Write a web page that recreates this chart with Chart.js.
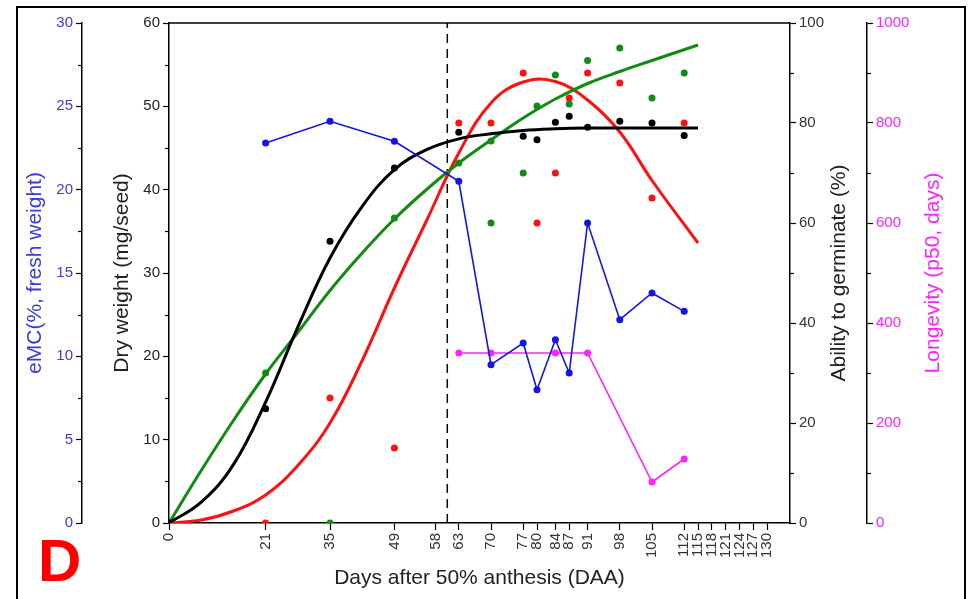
<!DOCTYPE html>
<html>
<head>
<meta charset="utf-8">
<title>Seed maturation time course</title>
<script src="https://cdn.jsdelivr.net/npm/chart.js@4.4.1/dist/chart.umd.min.js"></script>
<style>
  body { margin: 0; background: #fff; }
  #wrap { position: relative; width: 972px; height: 599px; }
  #panelLetter {
    position: absolute; left: 38px; top: 531px;
    font: bold 60px "Liberation Sans", Arial, sans-serif;
    line-height: 1; color: #ff0000;
  }
</style>
</head>
<body>
<div id="wrap">
  <canvas id="seedChart" width="972" height="599"></canvas>
  <div id="panelLetter">D</div>
</div>
<script>
// axis ticks
const dayTicks = [0, 21, 35, 49, 58, 63, 70, 77, 80, 84, 87, 91, 98, 105, 112, 115, 118, 121, 124, 127, 130];
const emcTicks = [0, 5, 10, 15, 20, 25, 30];
const dwTicks = [0, 10, 20, 30, 40, 50, 60];
const germTicks = [0, 20, 40, 60, 80, 100];
const longTicks = [0, 200, 400, 600, 800, 1000];

// dry weight (mg/seed), measured
const dwDays = [0, 21, 35, 49, 63, 77, 80, 84, 87, 91, 98, 105, 112];
const dwValues = [0, 13.7, 33.8, 42.6, 46.9, 46.4, 46.0, 48.1, 48.8, 47.5, 48.2, 48.0, 46.5];

// ability to germinate (%), green set
const germDays = [0, 21, 35, 49, 63, 70, 70, 77, 80, 84, 87, 91, 98, 105, 112];
const germValues = [0, 30, 0, 61, 72, 76.4, 60, 70, 83.4, 89.6, 83.8, 92.5, 95, 85, 90];

// ability to germinate (%), red set
const redDays = [0, 21, 35, 49, 63, 70, 77, 80, 84, 87, 91, 98, 105, 112];
const redValues = [0, 0, 25, 15, 80, 80, 90, 60, 70, 85, 90, 88, 65, 80];

// equilibrium moisture content (% fresh weight)
const emcDays = [21, 35, 49, 63, 70, 77, 80, 84, 87, 91, 98, 105, 112];
const emcValues = [22.8, 24.1, 22.9, 20.5, 9.5, 10.8, 8.0, 11.0, 9.0, 18.0, 12.2, 13.8, 12.7];

// longevity p50 (days)
const longDays = [63, 70, 84, 91, 105, 112];
const longValues = [340, 340, 340, 340, 82, 128];

// fitted curves
const fitDays = [0, 7, 14, 21, 28, 35, 42, 49, 56, 63, 70, 77, 84, 91, 98, 105, 115];
const dwFit = [0, 2.5, 7, 14.5, 23.5, 31.8, 38, 42.4, 44.8, 46.1, 46.7, 47.1, 47.3, 47.4, 47.4, 47.4, 47.4];
const germFit = [0, 10.5, 20.5, 29.8, 38.1, 46.5, 54, 60.8, 66.7, 72, 76.6, 81, 84.8, 87.9, 90.3, 92.5, 95.6];
const redFit = [0, 0.6, 2.4, 5.6, 11.5, 20, 32.5, 47, 60.5, 74, 84, 88.2, 88.3, 84.6, 78.2, 68.5, 56];

// physiological maturity marker (DAA)
const maturityDay = 60.5;
const maturityLine = [maturityDay, maturityDay];
const maturityRange = [0, 60];

const FONT = '"Liberation Sans", Arial, sans-serif';
const BLUE = "#1414e6";
const MAGENTA = "#ff22ff";
const GREEN = "#138a13";
const RED = "#ff1010";

const pts = (xs, ys) => xs.map((x, i) => ({ x, y: ys[i] }));

// majors get a label, half steps only a short tick mark
function withMinor(majors) {
  return (scale) => {
    const out = [];
    majors.forEach((v, i) => {
      out.push({ value: v, labelled: true });
      if (i < majors.length - 1) out.push({ value: (v + majors[i + 1]) / 2 });
    });
    scale.ticks = out;
  };
}
const majorOnly = (v, i, ticks) => (ticks[i].labelled ? v : "");

function yAxis(position, weight, width, majors, min, max, color, title, titlePad) {
  return {
    type: "linear",
    position,
    weight,
    min,
    max,
    afterBuildTicks: withMinor(majors),
    afterFit: (s) => { s.width = width; },
    grid: {
      display: true, drawOnChartArea: false, tickLength: 6, color: "#000", tickWidth: 1.2,
      tickColor: (c) => (c.tick && c.tick.labelled ? "#000" : "rgba(0,0,0,0)"),
    },
    border: { display: true, color: "#000", width: 1.5 },
    ticks: { font: { family: FONT, size: 15 }, color, padding: 3, callback: majorOnly },
    title: title
      ? { display: true, text: title, color, font: { family: FONT, size: 21 }, padding: { top: titlePad, bottom: 0 } }
      : { display: false },
  };
}

function drawUpTitle(ctx, text, x, y, color) {
  ctx.save();
  ctx.translate(x, y);
  ctx.rotate(-Math.PI / 2);
  ctx.font = "21px " + FONT;
  ctx.fillStyle = color;
  ctx.textAlign = "center";
  ctx.textBaseline = "middle";
  ctx.fillText(text, 0, 0);
  ctx.restore();
}

const framePlugin = {
  id: "frame",
  afterDraw(chart) {
    const { ctx, chartArea: a, scales } = chart;
    ctx.save();
    ctx.strokeStyle = "#000";
    ctx.lineWidth = 1.5;
    ctx.beginPath();
    ctx.moveTo(a.left, a.top);
    ctx.lineTo(a.right, a.top);
    ctx.stroke();

    // short minor ticks on the four value axes
    ctx.lineWidth = 1.2;
    ["yEMC", "yDW", "yGerm", "yLong"].forEach((id) => {
      const s = scales[id];
      const left = s.position === "left";
      const x0 = left ? s.right : s.left;
      const x1 = left ? x0 - 4 : x0 + 4;
      s.ticks.forEach((t) => {
        if (t.labelled) return;
        const y = Math.round(s.getPixelForValue(t.value)) + 0.5;
        ctx.beginPath();
        ctx.moveTo(x0, y);
        ctx.lineTo(x1, y);
        ctx.stroke();
      });
    });

    ctx.lineWidth = 2;
    ctx.strokeRect(17, 7, 948, 620);
    ctx.restore();
    const midY = (a.top + a.bottom) / 2;
    drawUpTitle(ctx, "Ability to germinate (%)", scales.yGerm.left + 49, midY, "#222");
    drawUpTitle(ctx, "Longevity (p50, days)", scales.yLong.left + 66, midY, MAGENTA);
  },
};

const dotStyle = (color) => ({
  backgroundColor: color,
  borderColor: color,
  pointRadius: 3.5,
  pointBorderWidth: 0,
  pointHoverRadius: 3.5,
});

const fitStyle = (color) => ({
  showLine: true,
  pointRadius: 0,
  borderColor: color,
  borderWidth: 3,
  tension: 0.4,
});

new Chart(document.getElementById("seedChart"), {
  type: "scatter",
  data: {
    datasets: [
      { ...dotStyle("#000"), data: pts(dwDays, dwValues), yAxisID: "yDW", showLine: false },
      { ...dotStyle(GREEN), data: pts(germDays, germValues), yAxisID: "yGerm", showLine: false },
      { ...dotStyle(RED), data: pts(redDays, redValues), yAxisID: "yGerm", showLine: false },
      { ...dotStyle(BLUE), data: pts(emcDays, emcValues), yAxisID: "yEMC", showLine: true, borderWidth: 1.6 },
      { ...dotStyle(MAGENTA), data: pts(longDays, longValues), yAxisID: "yLong", showLine: true, borderWidth: 1.6 },
      { ...fitStyle("#000"), data: pts(fitDays, dwFit), yAxisID: "yDW" },
      { ...fitStyle(GREEN), data: pts(fitDays, germFit), yAxisID: "yGerm" },
      { ...fitStyle(RED), data: pts(fitDays, redFit), yAxisID: "yGerm" },
      {
        data: pts(maturityLine, maturityRange), yAxisID: "yDW", showLine: true, pointRadius: 0,
        borderColor: "#000", borderWidth: 1.5, borderDash: [9, 6],
      },
    ],
  },
  options: {
    responsive: false,
    animation: false,
    devicePixelRatio: 1,
    layout: { padding: { top: 23, left: 0, right: 0, bottom: 0 } },
    plugins: { legend: { display: false }, tooltip: { enabled: false } },
    scales: {
      x: {
        type: "linear",
        position: "bottom",
        min: 0,
        max: 135,
        afterBuildTicks: (s) => { s.ticks = dayTicks.map((v) => ({ value: v })); },
        afterFit: (s) => { s.height = 76; },
        grid: { display: true, drawOnChartArea: false, tickLength: 7, color: "#000", tickWidth: 1.2 },
        border: { display: true, color: "#000", width: 1.5 },
        ticks: {
          autoSkip: false, minRotation: 90, maxRotation: 90, padding: 3,
          font: { family: FONT, size: 15 }, color: "#333", callback: (v) => v,
        },
        title: {
          display: true, text: "Days after 50% anthesis (DAA)", color: "#222",
          font: { family: FONT, size: 21 }, padding: { top: 0, bottom: 8 },
        },
      },
      yEMC: yAxis("left", 2, 82, emcTicks, 0, 30, "#3b3bdb", "eMC(%, fresh weight)", 23),
      yDW: yAxis("left", 1, 87, dwTicks, 0, 60, "#222", "Dry weight (mg/seed)", 28),
      yGerm: yAxis("right", 1, 77, germTicks, 0, 100, "#333", null, 0),
      yLong: yAxis("right", 2, 105, longTicks, 0, 1000, MAGENTA, null, 0),
    },
  },
  plugins: [framePlugin],
});
</script>
</body>
</html>
